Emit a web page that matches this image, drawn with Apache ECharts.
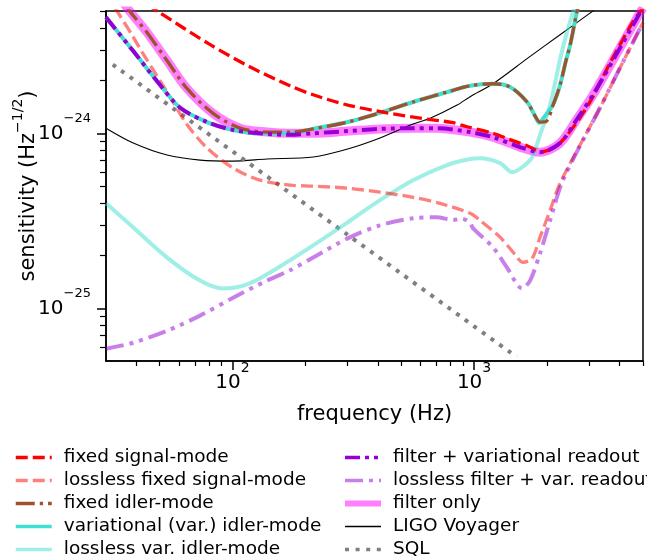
<!DOCTYPE html>
<html><head><meta charset="utf-8">
<script src="https://cdn.jsdelivr.net/npm/echarts@6/dist/echarts.min.js"></script>
<style>html,body{margin:0;padding:0;background:#fff}#c{width:647px;height:557px}</style>
</head><body><div id="c"></div>
<script>
// ---- axis range and tick values (raw units) ----
const freqRange = [30, 5000];
const sensRange = [5e-26, 5e-24];
const freqTicks = [100, 1000];
const sensTicks = [1e-25, 1e-24];
const freqMinor = [40, 50, 60, 70, 80, 90, 200, 300, 400, 500, 600, 700, 800, 900, 2000, 3000, 4000, 5000];
const sensMinor = [6e-26, 7e-26, 8e-26, 9e-26, 2e-25, 3e-25, 4e-25, 5e-25, 6e-25, 7e-25, 8e-25, 9e-25, 2e-24, 3e-24, 4e-24, 5e-24];

// ---- series data: [frequency (Hz), sensitivity (Hz^-1/2)] ----
const fixedSignal = [[30, 8.1e-24], [40, 6.0e-24], [48.8, 5.0e-24], [81, 3.21e-24], [118, 2.40e-24], [173, 1.87e-24], [216, 1.66e-24], [300, 1.45e-24], [436, 1.31e-24], [598, 1.22e-24], [819, 1.15e-24], [935, 1.09e-24], [1200, 1.0e-24], [1409, 9.2e-25], [1657, 8.5e-25], [1900, 7.85e-25], [2269, 8.8e-25], [2962, 1.45e-24], [3619, 2.46e-24], [4548, 4.35e-24], [5000, 5.2e-24]];
const losslessFixedSignal = [[30, 6.3e-24], [33.4, 4.97e-24], [38.9, 3.55e-24], [42.7, 2.85e-24], [53.7, 1.72e-24], [65, 1.12e-24], [78.6, 8.24e-25], [100.7, 6.33e-25], [130, 5.40e-25], [173, 5.06e-25], [216, 4.99e-25], [300, 4.86e-25], [408, 4.61e-25], [559, 4.31e-25], [723, 3.98e-25], [963, 3.49e-25], [1059, 3.18e-25], [1281, 2.55e-25], [1452, 2.09e-25], [1595, 1.83e-25], [1738, 1.93e-25], [1875, 2.55e-25], [2063, 3.63e-25], [2269, 5.19e-25], [3320, 1.40e-24], [4018, 2.37e-24], [5000, 4.3e-24]];
const fixedIdler = [[30, 7.6e-24], [37.7, 4.97e-24], [44.4, 3.76e-24], [53.7, 2.6e-24], [65, 1.8e-24], [83.2, 1.3e-24], [107.6, 1.07e-24], [139, 1.017e-24], [173, 1.017e-24], [216, 1.06e-24], [300, 1.16e-24], [408, 1.31e-24], [559, 1.51e-24], [773, 1.72e-24], [963, 1.87e-24], [1198, 1.92e-24], [1409, 1.84e-24], [1657, 1.51e-24], [1780, 1.27e-24], [1875, 1.16e-24], [1990, 1.17e-24], [2130, 1.47e-24], [2269, 1.89e-24], [2400, 2.6e-24], [2500, 3.21e-24], [2668, 5.0e-24], [2800, 6.5e-24]];
const varIdler = [[30, 4.6e-24], [38.9, 2.95e-24], [49.3, 1.95e-24], [60.8, 1.40e-24], [78.6, 1.16e-24], [100.7, 1.045e-24], [130, 1.0e-24], [173, 1.0e-24], [216, 1.06e-24], [300, 1.16e-24], [408, 1.31e-24], [559, 1.51e-24], [773, 1.72e-24], [963, 1.87e-24], [1198, 1.92e-24], [1409, 1.84e-24], [1657, 1.51e-24], [1780, 1.27e-24], [1860, 1.15e-24], [1950, 1.24e-24], [2130, 1.47e-24], [2269, 1.89e-24], [2400, 2.6e-24], [2500, 3.21e-24], [2668, 5.0e-24], [2800, 6.5e-24]];
const losslessVarIdler = [[30, 3.98e-25], [38.9, 2.90e-25], [53.7, 1.95e-25], [73.5, 1.44e-25], [90.7, 1.30e-25], [118, 1.39e-25], [173, 1.88e-25], [216, 2.29e-25], [300, 3.10e-25], [408, 4.15e-25], [559, 5.40e-25], [773, 6.59e-25], [963, 7.13e-25], [1059, 7.2e-25], [1281, 6.76e-25], [1437, 6.0e-25], [1580, 6.4e-25], [1738, 7.3e-25], [1875, 9.8e-25], [2063, 1.45e-24], [2269, 2.65e-24], [2425, 3.8e-24], [2600, 5.2e-24], [2800, 7.0e-24]];
const filterVar = [[30, 4.6e-24], [38.9, 2.95e-24], [49.3, 1.95e-24], [60.8, 1.40e-24], [78.6, 1.16e-24], [100.7, 1.045e-24], [130, 1.0e-24], [173, 9.8e-25], [216, 1.0e-24], [300, 1.03e-24], [408, 1.06e-24], [559, 1.07e-24], [700, 1.07e-24], [963, 1.017e-24], [1198, 9.5e-25], [1549, 8.34e-25], [1875, 7.8e-25], [2269, 8.8e-25], [2672, 1.21e-24], [3108, 1.66e-24], [4018, 3.08e-24], [4864, 4.9e-24], [5000, 5.2e-24]];
const losslessFilterVar = [[30, 5.87e-26], [38.9, 6.36e-26], [53.7, 7.45e-26], [73.5, 9.08e-26], [100.7, 1.15e-25], [139, 1.44e-25], [173, 1.65e-25], [216, 1.95e-25], [300, 2.51e-25], [408, 2.98e-25], [559, 3.27e-25], [700, 3.31e-25], [819, 3.2e-25], [892, 3.25e-25], [963, 3.08e-25], [991, 2.86e-25], [1198, 2.23e-25], [1369, 1.71e-25], [1580, 1.30e-25], [1705, 1.44e-25], [1875, 2.06e-25], [2063, 3.18e-25], [2334, 5.40e-25], [3320, 1.40e-24], [4018, 2.37e-24], [5000, 4.3e-24]];
const filterOnly = [[30, 7.6e-24], [37.7, 4.97e-24], [44.4, 3.76e-24], [53.7, 2.6e-24], [65, 1.8e-24], [83.2, 1.3e-24], [107.6, 1.07e-24], [139, 1.017e-24], [173, 1.0e-24], [216, 1.0e-24], [300, 1.03e-24], [408, 1.06e-24], [559, 1.07e-24], [700, 1.07e-24], [963, 1.017e-24], [1198, 9.5e-25], [1549, 8.34e-25], [1875, 7.8e-25], [2269, 8.8e-25], [2672, 1.21e-24], [3108, 1.66e-24], [4018, 3.08e-24], [4864, 4.9e-24], [5000, 5.2e-24]];
const ligoVoyager = [[30, 1.07e-24], [38.9, 8.8e-25], [53.7, 7.51e-25], [73.5, 7.03e-25], [100.7, 6.94e-25], [139, 7.13e-25], [216, 7.32e-25], [300, 8.13e-25], [408, 9.4e-25], [559, 1.13e-24], [658, 1.22e-24], [851, 1.45e-24], [963, 1.62e-24], [1198, 1.92e-24], [1657, 2.67e-24], [2269, 3.66e-24], [3162, 5.09e-24], [3619, 5.82e-24]];
const sql = [[32, 2.47e-24], [300, 2.63e-25], [1500, 5.27e-26]];

const legendLeft = ['fixed signal-mode', 'lossless fixed signal-mode', 'fixed idler-mode', 'variational (var.) idler-mode', 'lossless var. idler-mode'];
const legendRight = ['filter + variational readout', 'lossless filter + var. readout', 'filter only', 'LIGO Voyager', 'SQL'];

const FONT = 'DejaVu Sans';
const L = Math.log10;
// log-log axes: the library's value axes work on log10 of each value
const toLog = pts => pts.map(p => [L(p[0]), L(p[1])]);

const legendWidths = { 'filter only': 6, 'LIGO Voyager': 1.3 };

function mk(name, data, color, width, type, z) {
  return { name, type: 'line', data: toLog(data), symbol: 'none', smooth: 0.3, z: z,
    lineStyle: { color, width, type: type || 'solid', cap: 'butt', join: 'round' },
    itemStyle: { color }, emphasis: { disabled: true }, animation: false };
}
const series = [
  mk('filter only', filterOnly, 'rgba(255,0,255,0.5)', 9, 'solid', 1),
  mk('LIGO Voyager', ligoVoyager, '#000000', 1.1, 'solid', 2),
  mk('SQL', sql, '#808080', 4, [4, 6.6], 2),
  mk('lossless var. idler-mode', losslessVarIdler, 'rgba(64,224,208,0.5)', 4, 'solid', 2),
  mk('lossless fixed signal-mode', losslessFixedSignal, 'rgba(255,0,0,0.5)', 3.3, [12, 5], 2),
  mk('lossless filter + var. readout', losslessFilterVar, 'rgba(148,0,211,0.5)', 4, [18, 6, 4, 6, 4, 6], 2),
  mk('variational (var.) idler-mode', varIdler, '#40e0d0', 4, 'solid', 3),
  mk('fixed idler-mode', fixedIdler, '#a0522d', 3.3, [19, 5, 3.3, 5], 4),
  mk('fixed signal-mode', fixedSignal, '#ff0000', 3.3, [12, 5], 4),
  mk('filter + variational readout', filterVar, '#9400d3', 4, [15, 5, 4, 5, 4, 5], 5)
];

const xRich = {
  b: { fontSize: 20, fontFamily: FONT, color: '#000', lineHeight: 20 },
  s: { fontSize: 14, fontFamily: FONT, color: '#000', lineHeight: 20, padding: [0, 0, 30, 0] }
};
const yRich = {
  b: { fontSize: 20, fontFamily: FONT, color: '#000', lineHeight: 20 },
  s: { fontSize: 13, fontFamily: FONT, color: '#000', lineHeight: 20, padding: [0, 0, 30, 0] }
};
const nameRich = {
  n: { fontSize: 21, fontFamily: FONT, color: '#000', lineHeight: 22 },
  s: { fontSize: 14, fontFamily: FONT, color: '#000', lineHeight: 22, padding: [0, 0, 22, 0] }
};
const legendBase = {
  orient: 'vertical', itemWidth: 36, itemHeight: 14, itemGap: 4, padding: 0, height: 160,
  selectedMode: false, itemStyle: { opacity: 0 }, lineStyle: { width: 3.5 },
  textStyle: { fontSize: 18.5, fontFamily: FONT, color: '#000', padding: [0, 0, 0, 7] }
};
const legendItems = names => names.map(n => legendWidths[n] ? { name: n, lineStyle: { width: legendWidths[n] } } : n);
const tickStyle = w => ({ color: '#000', width: w });
const minorAxis = (vals, len) => ({ type: 'value', gridIndex: 0,
  axisLine: { show: false }, axisLabel: { show: false }, splitLine: { show: false },
  axisTick: { show: true, customValues: vals.map(L), length: len, lineStyle: tickStyle(1.2) } });

const option = {
  animation: false,
  backgroundColor: '#fff',
  grid: { left: 106, right: 4, top: 11, bottom: 196, show: true, borderColor: '#000', borderWidth: 1.5, outerBoundsMode: 'none', containLabel: false },
  xAxis: [
    { type: 'value', min: L(freqRange[0]), max: L(freqRange[1]), position: 'bottom',
      name: 'frequency (Hz)', nameLocation: 'middle', nameGap: 43, nameMoveOverlap: false,
      nameTextStyle: { fontSize: 21, fontFamily: FONT, color: '#000' },
      axisLine: { show: true, onZero: false, lineStyle: tickStyle(1.5) },
      axisTick: { show: true, customValues: freqTicks.map(L), length: 9, lineStyle: tickStyle(1.5) },
      axisLabel: { show: true, customValues: freqTicks.map(L), margin: 12, formatter: v => '{b|10}{s|' + Math.round(v) + '}', rich: xRich },
      splitLine: { show: false } },
    Object.assign(minorAxis(freqMinor, 5), { min: L(freqRange[0]), max: L(freqRange[1]), position: 'bottom' })
  ],
  yAxis: [
    { type: 'value', min: L(sensRange[0]), max: L(sensRange[1]), position: 'left',
      name: '{n|sensitivity (Hz}{s|−1/2}{n|)}', nameLocation: 'middle', nameGap: 66, nameMoveOverlap: false,
      nameTextStyle: { rich: nameRich, fontSize: 21, fontFamily: FONT },
      axisLine: { show: true, onZero: false, lineStyle: tickStyle(1.5) },
      axisTick: { show: true, customValues: sensTicks.map(L), length: 9, lineStyle: tickStyle(1.5) },
      axisLabel: { show: true, customValues: sensTicks.map(L), margin: 15, formatter: v => '{b|10}{s|−' + (-Math.round(v)) + '}', rich: yRich },
      splitLine: { show: false } },
    Object.assign(minorAxis(sensMinor, 6), { min: L(sensRange[0]), max: L(sensRange[1]), position: 'left' })
  ],
  legend: [
    Object.assign({}, legendBase, { data: legendItems(legendLeft), left: 14, top: 448 }),
    Object.assign({}, legendBase, { data: legendItems(legendRight), left: 342, top: 448 })
  ],
  series: series
};
const chart = echarts.init(document.getElementById('c'), null, { renderer: 'canvas' });
chart.setOption(option);
</script>
</body></html>
